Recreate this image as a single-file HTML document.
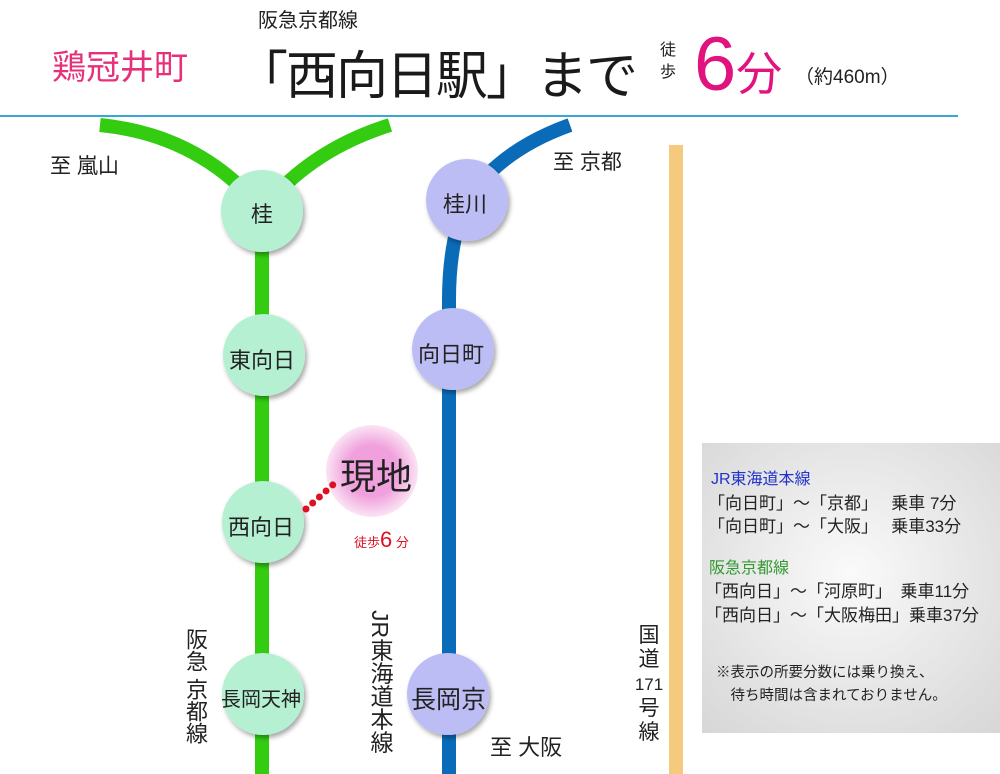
<!DOCTYPE html>
<html><head><meta charset="utf-8"><style>
html,body{margin:0;padding:0;background:#fff;}
body{width:1000px;height:774px;position:relative;overflow:hidden;font-family:"Liberation Sans","Noto Sans CJK JP",sans-serif;}
.t{position:absolute;white-space:nowrap;color:#222;}
.v{position:absolute;writing-mode:vertical-rl;color:#222;font-size:20px;line-height:22px;}
</style></head><body>
<svg width="1000" height="774" style="position:absolute;left:0;top:0">
<defs>
<filter id="sh" x="-30%" y="-30%" width="160%" height="160%"><feDropShadow dx="2" dy="3" stdDeviation="2.5" flood-color="#000" flood-opacity="0.35"/></filter>
<radialGradient id="pk"><stop offset="0.55" stop-color="#f0a0dc"/><stop offset="1" stop-color="#fbe4f4"/></radialGradient>
<radialGradient id="bx" cx="0.5" cy="0.45" r="0.75"><stop offset="0" stop-color="#fafafa"/><stop offset="1" stop-color="#d6d6d6"/></radialGradient>
</defs>
<line x1="0" y1="116" x2="958" y2="116" stroke="#3aa6d6" stroke-width="2"/>
<rect x="669" y="145" width="14" height="629" fill="#f5c97e"/>
<rect x="702" y="443" width="298" height="290" fill="url(#bx)"/>
<path d="M100,125 Q200,135 262,210" stroke="#33cc11" stroke-width="14" fill="none"/>
<path d="M390,125 Q310,150 262,210" stroke="#33cc11" stroke-width="14" fill="none"/>
<line x1="262" y1="210" x2="262" y2="774" stroke="#33cc11" stroke-width="14"/>
<path d="M570,125 Q500,150 467,200 Q449,240 449,300 L449,774" stroke="#0a6cb8" stroke-width="14" fill="none"/>
<g filter="url(#sh)" fill="#b5f0d2">
<circle cx="262" cy="211" r="41"/><circle cx="264" cy="355" r="41"/><circle cx="263" cy="522" r="41"/><circle cx="263" cy="694" r="41"/>
</g>
<g filter="url(#sh)" fill="#bdbdf5">
<circle cx="467" cy="200" r="41"/><circle cx="453" cy="349" r="41"/><circle cx="448" cy="694" r="41"/>
</g>
<circle cx="372" cy="471" r="46" fill="url(#pk)"/>
<line x1="306" y1="509" x2="336" y2="482" stroke="#dd1122" stroke-width="7" stroke-linecap="round" stroke-dasharray="0 9"/>
</svg>
<div class="t" style="left:52px;top:40px;font-size:34px;color:#e6307a">鶏冠井町</div>
<div class="t" style="left:258px;top:4px;font-size:20px">阪急京都線</div>
<div class="t" style="left:236px;top:34px;font-size:52px;letter-spacing:-2px;color:#1a1a1a">「西向日駅」まで</div>
<div class="t" style="left:660px;top:40px;font-size:16px;line-height:22px;width:18px;white-space:normal">徒<br>歩</div>
<div class="t" style="left:694px;top:20px;font-size:76px;color:#e0137f;line-height:90px">6<span style="font-size:46px">分</span></div>
<div class="t" style="left:795px;top:62px;font-size:19px">（約460m）</div>
<div class="t" style="left:50px;top:150px;font-size:21px">至 嵐山</div>
<div class="t" style="left:553px;top:146px;font-size:21px">至 京都</div>
<div class="t" style="left:251px;top:197px;font-size:22px">桂</div>
<div class="t" style="left:229px;top:343px;font-size:22px">東向日</div>
<div class="t" style="left:228px;top:510px;font-size:22px">西向日</div>
<div class="t" style="left:221px;top:683px;font-size:20px">長岡天神</div>
<div class="t" style="left:443px;top:187px;font-size:22px">桂川</div>
<div class="t" style="left:418px;top:337px;font-size:22px">向日町</div>
<div class="t" style="left:411px;top:680px;font-size:25px">長岡京</div>
<div class="t" style="left:340px;top:448px;font-size:36px;color:#222">現地</div>
<div class="t" style="left:354px;top:527px;font-size:13px;color:#dd1122">徒歩<span style="font-size:22px">6</span> 分</div>
<div class="t" style="left:490px;top:730px;font-size:22px">至 大阪</div>
<div class="v" style="left:183px;top:628px;font-size:22px;line-height:24px">阪急 京都線</div>
<div class="v" style="left:368px;top:610px;font-size:23px;line-height:24px">JR東海道本線</div>
<div class="t" style="left:634px;top:624px;font-size:21px;line-height:24px;text-align:center;width:30px;white-space:normal">国<br>道<br><span style="font-size:17px">171</span><br>号<br>線</div>
<div class="t" style="left:711px;top:465px;font-size:16px;color:#2233cc">JR東海道本線</div>
<div class="t" style="left:708px;top:492px;font-size:17px;line-height:23px">「向日町」～「京都」　 乗車 7分<br>「向日町」～「大阪」　 乗車33分</div>
<div class="t" style="left:709px;top:554px;font-size:16px;color:#339933">阪急京都線</div>
<div class="t" style="left:705px;top:580px;font-size:17px;line-height:24px">「西向日」～「河原町」　乗車11分<br>「西向日」～「大阪梅田」乗車37分</div>
<div class="t" style="left:716px;top:662px;font-size:14.5px;line-height:23px">※表示の所要分数には乗り換え、<br>　待ち時間は含まれておりません。</div>
</body></html>
